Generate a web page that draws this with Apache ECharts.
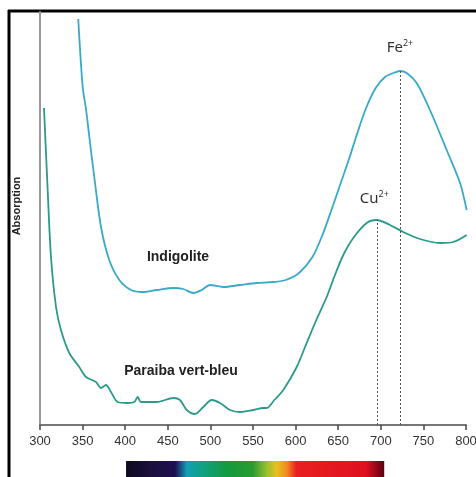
<!DOCTYPE html>
<html>
<head>
<meta charset="utf-8">
<title>Absorption spectra</title>
<script src="https://cdn.jsdelivr.net/npm/echarts@6/dist/echarts.min.js"></script>
<style>
	*{
		margin: 0;
		padding: 0;
	}
	body{
		background: #fff;
	}
	#chart{
		width: 476px;
		height: 477px;
	}
</style>
</head>
<body>
<div id="chart"></div>
<script>
// wavelength (nm) / absorption (arbitrary units)
var indigoliteNm = [344.9, 350.1, 354, 357.9, 363.7, 371.6, 381.3, 393.1, 406.8, 420.5, 437, 456.5, 468.2, 480, 489.8, 499.5, 515.1, 534.7, 554.3, 573.8, 588.5, 604, 619.8, 631.5, 643.3, 653, 662.7, 670.6, 682.3, 694, 705, 714.7, 722.5, 730.4, 742.1, 757.7, 777.3, 793, 800.8];
var indigoliteAbs = [406, 338, 316, 288, 248, 198, 165, 145, 135, 133, 135, 137, 136, 132, 135, 140, 138, 140, 142, 143, 145, 152, 168, 190, 218, 242, 266, 287, 316, 337, 348, 352, 354, 352, 342, 315, 275, 242, 215];

var paraibaNm = [304.7, 309, 312.9, 318.8, 324.6, 334.4, 346.1, 354, 365.7, 371.6, 377.5, 383.3, 391.2, 402.9, 410.7, 414.7, 418.5, 437, 456.5, 464.3, 472.2, 481.9, 491.7, 501.5, 511.3, 523, 534.7, 550.4, 562.1, 566.1, 575, 585.6, 601.3, 613, 624.8, 636.5, 646.2, 656, 667.7, 683.4, 695.1, 710.8, 726.4, 746, 769.5, 785.1, 800.8];
var paraibaAbs = [317, 235, 168, 118, 95, 72, 58, 48, 43, 37, 40, 33, 23, 22, 23, 28, 23, 23, 27, 25, 15, 11, 18, 25, 22, 15, 13, 15, 17, 17, 25, 35, 58, 82, 106, 128, 150, 170, 187, 202, 205, 200, 193, 186, 182, 183, 190];

var xTicks = [300, 350, 400, 450, 500, 550, 600, 650, 700, 750, 800];
var feBand = [722.5, 354];
var cuBand = [696, 205];
var spectrumRange = [401, 704];

function pairs(xs, ys){
	var out = [];
	for (var i = 0; i < xs.length; i++) {
		out.push([xs[i], ys[i]]);
	}
	return out;
}

var myChart = echarts.init(document.getElementById('chart'));

var bandLabel = {
	show: true,
	position: 'end',
	rich: {
		a: {fontSize: 15, color: '#333', fontFamily: 'Noto Sans', lineHeight: 18},
		s: {fontSize: 9, color: '#333', fontFamily: 'Noto Sans', verticalAlign: 'top', lineHeight: 10}
	}
};

var option = {
	backgroundColor: '#fff',
	animation: false,
	grid: {left: 40, right: 10, top: 12, bottom: 52, outerBoundsMode: 'none'},
	xAxis: {
		type: 'value',
		min: 300,
		max: 800,
		interval: 50,
		splitLine: {show: false},
		axisLine: {onZero: false, lineStyle: {color: '#777', width: 2}},
		axisTick: {show: true, length: 5, lineStyle: {color: '#444', width: 1.5}},
		axisLabel: {
			color: '#333',
			fontSize: 13,
			fontFamily: 'Liberation Sans',
			margin: 10,
			showMaxLabel: true,
			customValues: xTicks
		}
	},
	yAxis: {
		type: 'value',
		min: 0,
		max: 413,
		splitLine: {show: false},
		axisLine: {show: true, lineStyle: {color: '#999', width: 2}},
		axisTick: {show: false},
		axisLabel: {show: false}
	},
	series: [
		{
			name: 'Indigolite',
			type: 'line',
			data: pairs(indigoliteNm, indigoliteAbs),
			smooth: 0.3,
			showSymbol: false,
			lineStyle: {color: '#38a9c9', width: 1.8},
			markLine: {
				silent: true,
				symbol: 'none',
				lineStyle: {color: '#555', type: [2, 2], width: 1},
				label: Object.assign({distance: 14, formatter: '{a|Fe}{s|2+}'}, bandLabel),
				data: [[{coord: [feBand[0], 0]}, {coord: feBand}]]
			}
		},
		{
			name: 'Paraiba vert-bleu',
			type: 'line',
			data: pairs(paraibaNm, paraibaAbs),
			smooth: 0.3,
			showSymbol: false,
			lineStyle: {color: '#2b9a8b', width: 1.8},
			markLine: {
				silent: true,
				symbol: 'none',
				lineStyle: {color: '#555', type: [2, 2], width: 1},
				label: Object.assign({distance: 12, offset: [-3, 0], formatter: '{a|Cu}{s|2+}'}, bandLabel),
				data: [[{coord: [cuBand[0], 0]}, {coord: cuBand}]]
			}
		}
	]
};

myChart.setOption(option);

// frame, axis name, curve names and the visible spectrum strip
var x0 = myChart.convertToPixel({xAxisIndex: 0}, spectrumRange[0]);
var x1 = myChart.convertToPixel({xAxisIndex: 0}, spectrumRange[1]);

myChart.setOption({
	graphic: [
		{type: 'line', shape: {x1: 9, y1: 10, x2: 9, y2: 477}, style: {stroke: '#000', lineWidth: 3}},
		{type: 'line', shape: {x1: 8, y1: 11, x2: 476, y2: 11}, style: {stroke: '#000', lineWidth: 3}},
		{type: 'text', x: 16.5, y: 206, rotation: Math.PI / 2, style: {text: 'Absorption', fill: '#222', font: 'bold 11px "Liberation Sans"', align: 'center', verticalAlign: 'middle'}},
		{type: 'text', x: 178, y: 257, style: {text: 'Indigolite', fill: '#222', font: 'bold 14px "Liberation Sans"', align: 'center', verticalAlign: 'middle'}},
		{type: 'text', x: 181, y: 371, style: {text: 'Paraiba vert-bleu', fill: '#222', font: 'bold 14px "Liberation Sans"', align: 'center', verticalAlign: 'middle'}},
		{
			type: 'rect',
			shape: {x: x0, y: 461, width: x1 - x0, height: 16},
			style: {
				fill: new echarts.graphic.LinearGradient(0, 0, 1, 0, [
					{offset: 0, color: '#0d0a1e'},
					{offset: 0.09, color: '#1a0f3c'},
					{offset: 0.19, color: '#1e1050'},
					{offset: 0.215, color: '#1a5a8a'},
					{offset: 0.235, color: '#10a0b0'},
					{offset: 0.31, color: '#12a07a'},
					{offset: 0.39, color: '#139a40'},
					{offset: 0.49, color: '#2a9a30'},
					{offset: 0.545, color: '#9ac030'},
					{offset: 0.584, color: '#e8c020'},
					{offset: 0.623, color: '#f08a20'},
					{offset: 0.66, color: '#e82020'},
					{offset: 0.93, color: '#e01020'},
					{offset: 1, color: '#5a0010'}
				])
			}
		}
	]
});
</script>
</body>
</html>
